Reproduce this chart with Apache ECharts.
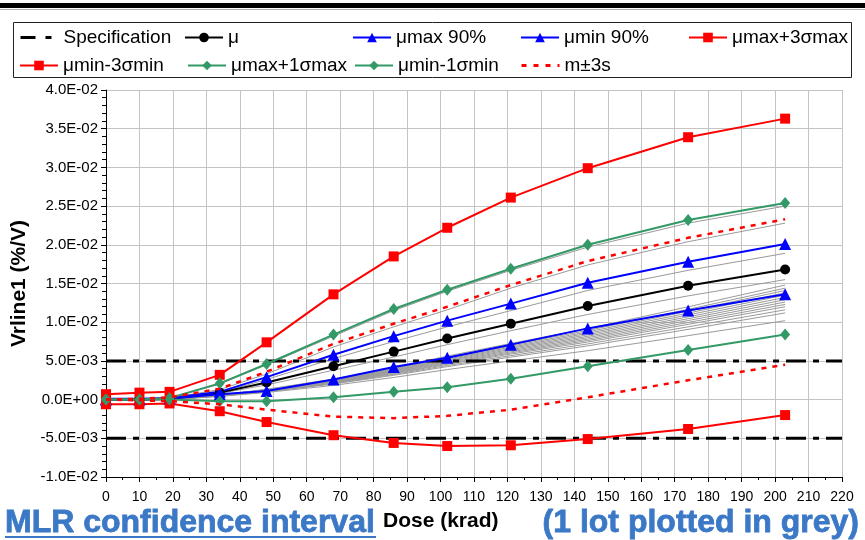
<!DOCTYPE html>
<html>
<head>
<meta charset="utf-8">
<script src="https://cdn.jsdelivr.net/npm/echarts@6/dist/echarts.min.js"></script>
<style>
  html, body { margin: 0; padding: 0; background: #fff; }
  #chart { width: 865px; height: 540px; }
</style>
</head>
<body>
<div id="chart"></div>
<script>
// Irradiation doses (krad)
const doses = [0, 10, 19, 34, 48, 68, 86, 102, 121, 144, 174, 203];

// Specification limits
const specLimits = [0.005, -0.005];

// Statistical envelopes of Vrline1 drift (%/V)
const mu        = [0, 0, 0.0001, 0.0009, 0.0022, 0.0043, 0.0062, 0.0079, 0.0098, 0.0121, 0.0147, 0.0168];
const muMax90   = [0.0001, 0.0001, 0.0002, 0.0010, 0.0029, 0.0058, 0.0082, 0.0102, 0.0124, 0.0151, 0.0178, 0.0201];
const muMin90   = [0, 0, 0.0001, 0.0007, 0.0011, 0.0026, 0.0042, 0.0054, 0.0071, 0.0092, 0.0115, 0.0136];
const muMax3s   = [0.0007, 0.0009, 0.0010, 0.0032, 0.0074, 0.0136, 0.0185, 0.0222, 0.0261, 0.0299, 0.0339, 0.0363];
const muMin3s   = [-0.0006, -0.0006, -0.0005, -0.0015, -0.0029, -0.0046, -0.0056, -0.0060, -0.0059, -0.0051, -0.0038, -0.0020];
const muMax1s   = [0, 0, 0.0002, 0.0021, 0.0046, 0.0084, 0.0117, 0.0142, 0.0169, 0.0200, 0.0232, 0.0254];
const muMin1s   = [0, 0, 0, -0.0002, -0.0002, 0.0003, 0.0010, 0.0016, 0.0027, 0.0043, 0.0064, 0.0084];
const mPlus3s   = [0, 0.0001, 0.0003, 0.0014, 0.0036, 0.0072, 0.0098, 0.0120, 0.0148, 0.0179, 0.0209, 0.0233];
const mMinus3s  = [0, -0.0001, -0.0002, -0.0006, -0.0013, -0.0022, -0.0024, -0.0021, -0.0013, 0.0003, 0.0025, 0.0045];

// Individual parts of the lot (grey)
const lotParts = [
  [0, 0, 0.0002, 0.0020, 0.0045, 0.0082, 0.0115, 0.0140, 0.0167, 0.0197, 0.0228, 0.0250],
  [0, 0, 0.0002, 0.0013, 0.0033, 0.0068, 0.0094, 0.0116, 0.0144, 0.0174, 0.0204, 0.0228],
  [0, 0, 0.0001, 0.0009, 0.0026, 0.0053, 0.0075, 0.0094, 0.0115, 0.0141, 0.0167, 0.0189],
  [0, 0, 0, 0.0008, 0.0019, 0.0038, 0.0055, 0.0071, 0.0089, 0.0110, 0.0134, 0.0155],
  [0, 0, 0, 0.00059, 0.00133, 0.00266, 0.00414, 0.00562, 0.00725, 0.00918, 0.01199, 0.0148],
  [0, 0, 0, 0.00058, 0.00130, 0.00259, 0.00403, 0.00547, 0.00706, 0.00893, 0.01166, 0.0144],
  [0, 0, 0, 0.00056, 0.00127, 0.00254, 0.00395, 0.00536, 0.00691, 0.00874, 0.01142, 0.0141],
  [0, 0, 0, 0.00055, 0.00124, 0.00248, 0.00386, 0.00524, 0.00676, 0.00856, 0.01118, 0.0138],
  [0, 0, 0, 0.00054, 0.00122, 0.00243, 0.00378, 0.00513, 0.00662, 0.00837, 0.01094, 0.0135],
  [0, 0, 0, 0.00053, 0.00119, 0.00238, 0.00370, 0.00502, 0.00647, 0.00818, 0.01069, 0.0132],
  [0, 0, 0, 0.00052, 0.00116, 0.00232, 0.00361, 0.00490, 0.00632, 0.00800, 0.01045, 0.0129],
  [0, 0, 0, 0.00050, 0.00113, 0.00227, 0.00353, 0.00479, 0.00617, 0.00781, 0.01021, 0.0126],
  [0, 0, 0, 0.00049, 0.00111, 0.00221, 0.00344, 0.00467, 0.00603, 0.00763, 0.00996, 0.0123],
  [0, 0, 0, 0.00048, 0.00108, 0.00216, 0.00336, 0.00456, 0.00588, 0.00744, 0.00972, 0.0120],
  [0, 0, 0, 0.00046, 0.00104, 0.00209, 0.00325, 0.00441, 0.00568, 0.00719, 0.00940, 0.0116],
  [0, 0, 0, 0.00045, 0.00101, 0.00202, 0.00314, 0.00426, 0.00549, 0.00694, 0.00907, 0.0112],
  [0, 0, 0, 0.00041, 0.00092, 0.00184, 0.00286, 0.00388, 0.00500, 0.00632, 0.00826, 0.0102]
];

const xMin = 0, xMax = 220, xStep = 10;
const yMin = -0.01, yMax = 0.04, yStep = 0.005;

const FONT = '"Liberation Sans", Arial, sans-serif';
const BLUE_TEXT = '#3B78C6';

const pts = arr => doses.map((d, i) => [d, arr[i]]);

function sciLabel(v) {
  if (Math.abs(v) < 1e-12) return '0.0E+00';
  const s = v.toExponential(1);
  const [m, e] = s.split('e');
  const n = parseInt(e, 10);
  const sign = n < 0 ? '-' : '+';
  return m + 'E' + sign + String(Math.abs(n)).padStart(2, '0');
}

function markerSeries(name, data, color, symbol, size) {
  return {
    name, type: 'line', data: pts(data),
    symbol, symbolSize: size,
    lineStyle: { color, width: 2 },
    itemStyle: { color, borderWidth: 0 },
    z: 4
  };
}

const series = [];

lotParts.forEach((arr, i) => {
  series.push({
    name: 'lot' + (i + 1), type: 'line', data: pts(arr),
    symbol: 'none', lineStyle: { color: '#9a9a9a', width: 1 }, z: 2
  });
});

specLimits.forEach(v => {
  series.push({
    name: 'Specification', type: 'line',
    data: [[xMin, v], [xMax, v]],
    symbol: 'none',
    lineStyle: { color: '#000', width: 3, type: [20, 7, 6, 7] },
    itemStyle: { color: '#000' },
    z: 3
  });
});

series.push(markerSeries('μ', mu, '#000000', 'circle', 10));
series.push(markerSeries('μmax 90%', muMax90, '#0000FF', 'triangle', 12));
series.push(markerSeries('μmin 90%', muMin90, '#0000FF', 'triangle', 12));
series.push(markerSeries('μmax+3σmax', muMax3s, '#FF0000', 'rect', 10));
series.push(markerSeries('μmin-3σmin', muMin3s, '#FF0000', 'rect', 10));
series.push(markerSeries('μmax+1σmax', muMax1s, '#339966', 'diamond', [10, 12]));
series.push(markerSeries('μmin-1σmin', muMin1s, '#339966', 'diamond', [10, 12]));

[mPlus3s, mMinus3s].forEach(arr => {
  series.push({
    name: 'm±3s', type: 'line', data: pts(arr), symbol: 'none',
    lineStyle: { color: '#FF0000', width: 2.5, type: [5, 6] },
    itemStyle: { color: '#FF0000' },
    z: 5
  });
});

// Legend entries laid out on a fixed two-row grid; plain-line entries hide the symbol
const lineOnly = {
  Specification: { type: [15, 10, 6, 30], width: 3 },
  'm±3s': { type: [5, 7], width: 3 }
};
const legendItems = [
  ['Specification', 19, 28], ['μ', 184, 28], ['μmax 90%', 352, 28], ['μmin 90%', 520, 28], ['μmax+3σmax', 688, 28],
  ['μmin-3σmin', 19, 56], ['μmax+1σmax', 187, 56], ['μmin-1σmin', 354, 56], ['m±3s', 520, 56]
];
const legends = legendItems.map(([name, left, top]) => {
  const item = { name };
  if (lineOnly[name]) {
    item.itemStyle = { opacity: 0 };
    item.lineStyle = lineOnly[name];
  }
  return {
    data: [item], left, top, padding: 0,
    itemWidth: 38, itemHeight: 12, itemGap: 0,
    selectedMode: false,
    textStyle: { fontFamily: FONT, fontSize: 19, color: '#000' }
  };
});

const chart = echarts.init(document.getElementById('chart'), null, { renderer: 'canvas' });
chart.setOption({
  animation: false,
  backgroundColor: '#fff',
  grid: { left: 106, right: 23, top: 90, bottom: 63, containLabel: false, outerBoundsMode: 'none' },
  legend: legends,
  xAxis: {
    type: 'value', min: xMin, max: xMax, interval: xStep,
    axisLine: { show: true, onZero: false, lineStyle: { color: '#000', width: 1 } },
    axisTick: { show: true, length: 5, lineStyle: { color: '#000' } },
    minorTick: { show: true, splitNumber: 2, length: 3, lineStyle: { color: '#000' } },
    splitLine: { show: true, lineStyle: { color: '#c4c4c4', width: 1 } },
    axisLabel: { fontFamily: FONT, fontSize: 14, color: '#000', margin: 13 }
  },
  yAxis: {
    type: 'value', min: yMin, max: yMax, interval: yStep,
    name: 'Vrline1 (%/V)', nameLocation: 'middle', nameGap: 74,
    nameTextStyle: { fontFamily: FONT, fontSize: 21, fontWeight: 'bold', color: '#000' },
    axisLine: { show: true, onZero: false, lineStyle: { color: '#000', width: 1 } },
    axisTick: { show: true, length: 5, lineStyle: { color: '#000' } },
    minorTick: { show: true, splitNumber: 5, length: 4, lineStyle: { color: '#000' } },
    splitLine: { show: true, lineStyle: { color: '#c4c4c4', width: 1 } },
    axisLabel: { fontFamily: FONT, fontSize: 15, color: '#000', margin: 8, formatter: sciLabel }
  },
  graphic: [
    { type: 'rect', shape: { x: 0, y: 3, width: 865, height: 5 }, style: { fill: '#000' }, silent: true },
    { type: 'line', shape: { x1: 0, y1: 9.5, x2: 865, y2: 9.5 }, style: { stroke: '#b0b0b0', lineWidth: 1 }, silent: true },
    { type: 'rect', shape: { x: 13.5, y: 22.5, width: 838, height: 55 }, style: { fill: 'none', stroke: '#222', lineWidth: 1 }, silent: true },
    { type: 'text', style: { x: 5, y: 523, text: 'MLR confidence interval', font: 'bold 32px ' + FONT, fill: BLUE_TEXT, stroke: BLUE_TEXT, lineWidth: 0.8, verticalAlign: 'middle' }, silent: true },
    { type: 'line', shape: { x1: 5, y1: 537, x2: 376, y2: 537 }, style: { stroke: BLUE_TEXT, lineWidth: 2 }, silent: true },
    { type: 'text', style: { x: 383, y: 521.5, text: 'Dose (krad)', font: 'bold 21px ' + FONT, fill: '#000', verticalAlign: 'middle' }, silent: true },
    { type: 'text', style: { x: 859, y: 523, text: '(1 lot plotted in grey)', font: 'bold 32px ' + FONT, fill: BLUE_TEXT, stroke: BLUE_TEXT, lineWidth: 0.8, align: 'right', verticalAlign: 'middle' }, silent: true }
  ],
  series
});
</script>
</body>
</html>
